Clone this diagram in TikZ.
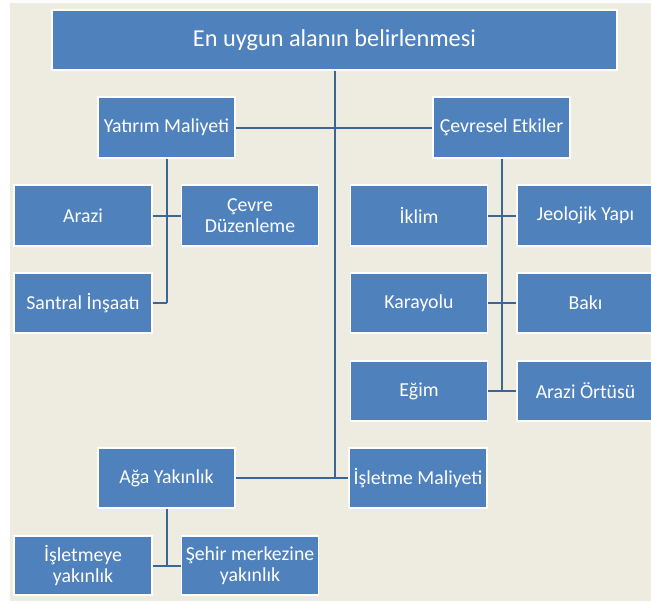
\documentclass[tikz,border=0pt]{standalone}
\usepackage{fontspec}
\setmainfont{Carlito}
\usetikzlibrary{calc,positioning}
\definecolor{boxblue}{HTML}{4F81BD}
\definecolor{linkblue}{HTML}{3C6696}
\definecolor{paper}{HTML}{EEECE1}
\tikzset{
  link/.style={draw=linkblue,line width=2pt}
}

\begin{document}
\begin{tikzpicture}[x=1pt,y=-1pt,
    kutu/.style={rectangle,fill=boxblue,draw=white,line width=1.2pt,text=white,align=center,inner sep=0pt,minimum width=137pt,minimum height=61pt,font=\fontsize{19.8}{21}\selectfont}]
        \useasboundingbox (0,0) rectangle (651,603);
        \clip (0,0) rectangle (651,603);
        \fill[white] (0,0) rectangle (651,603);
        \fill[paper] (10,3) rectangle (651,601);

        \node (hedef) at (334.5,40) [kutu,minimum width=565pt,minimum height=60pt,font=\fontsize{24.3}{27}\selectfont] {En uygun alanın belirlenmesi};

        \node (YM) at (166.5,127.5) [kutu] {Yatırım Maliyeti};
        \node (CE) at (501.5,127.5) [kutu] {Çevresel Etkiler};

        \node (Y1) at (83,215.5) [kutu,minimum width=138pt] {Arazi};
        \node (Y2) at (250,215.5) [kutu] {Çevre\\Düzenleme};
        \node (Y3) at (83,303) [kutu,minimum width=138pt,minimum height=60pt] {Santral İnşaatı};

        \node (C1) at (419,215.5) [kutu] {İklim};
        \node (C2) at (585.5,215.5) [kutu] {Jeolojik Yapı};
        \node (C3) at (419,303) [kutu,minimum height=60pt] {Karayolu};
        \node (C4) at (585.5,303) [kutu,minimum height=60pt] {Bakı};
        \node (C5) at (419,391) [kutu,minimum height=60pt] {Eğim};
        \node (C6) at (585.5,391) [kutu,minimum height=60pt] {Arazi Örtüsü};

        \node (AY) at (166.5,478) [kutu,minimum height=60pt] {Ağa Yakınlık};
        \node (IM) at (418,478) [kutu,minimum width=138pt,minimum height=60pt] {İşletme Maliyeti};

        \node (A1) at (83,565.5) [kutu,minimum width=138pt,minimum height=59pt] {İşletmeye\\yakınlık};
        \node (A2) at (250,565.5) [kutu,minimum height=59pt] {Şehir merkezine\\yakınlık};

        \coordinate (ana) at (hedef.south |- AY);
        \coordinate (yuc) at (YM.south |- Y3);
        \coordinate (cuc) at (CE.south |- C5);
        \coordinate (auc) at (AY.south |- A1);

        % ana gövde
        \draw[link] (hedef.south) -- (ana);
        \draw[link] (YM) -- (CE);
        \draw[link] (AY) -- (IM);

        % yatırım maliyeti
        \draw[link] (YM.south) -- (yuc);
        \draw[link] (Y1) -- (Y2);
        \draw[link] (Y3.east) -- (yuc);

        % çevresel etkiler
        \draw[link] (CE.south) -- (cuc);
        \draw[link] (C1) -- (C2);
        \draw[link] (C3) -- (C4);
        \draw[link] (C5) -- (C6);

        % ağa yakınlık
        \draw[link] (AY.south) -- (auc);
        \draw[link] (A1) -- (A2);
\end{tikzpicture}
\end{document}
